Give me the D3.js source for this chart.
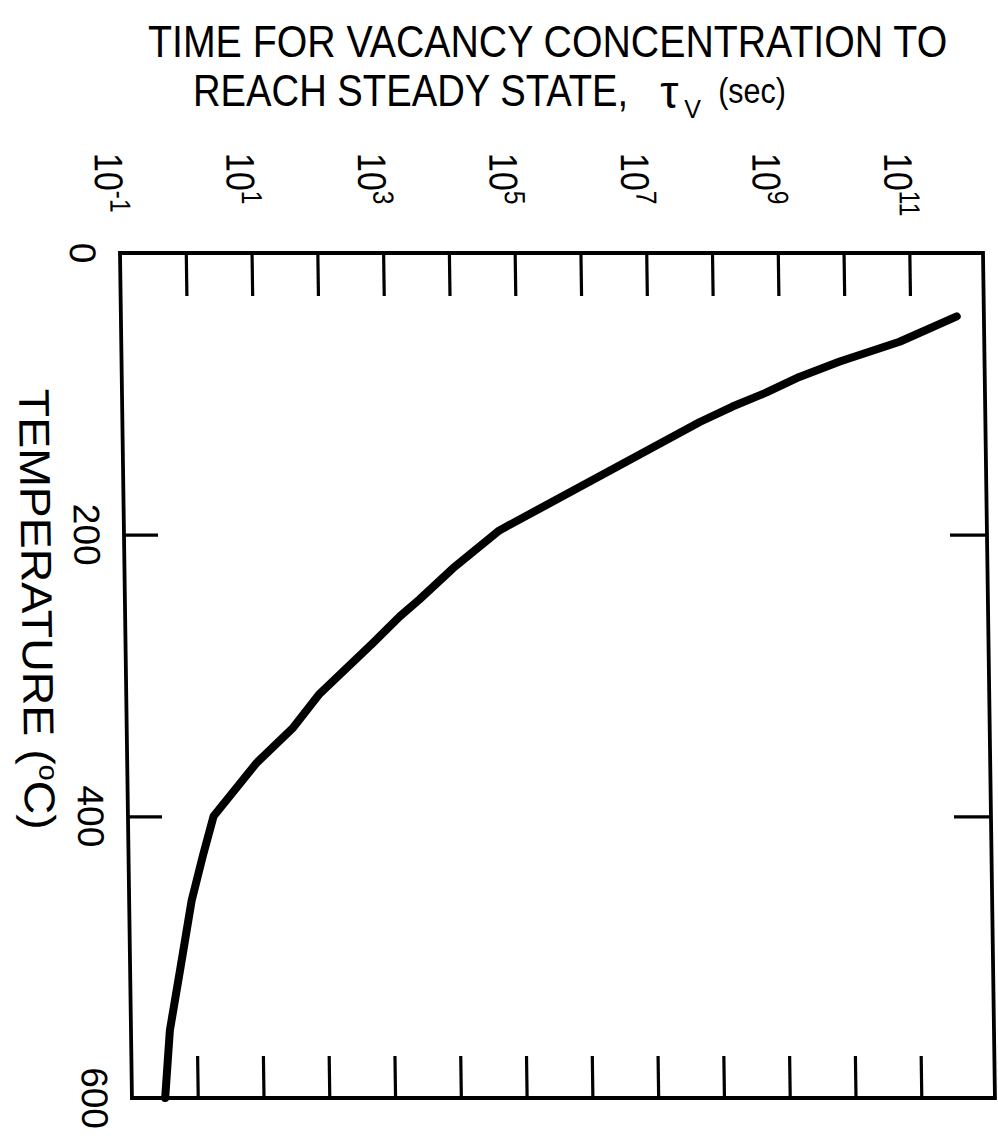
<!DOCTYPE html>
<html>
<head>
<meta charset="utf-8">
<script src="https://cdn.jsdelivr.net/npm/d3@7"></script>
<style>
  html, body { margin: 0; padding: 0; background: #fff; }
  svg { display: block; }
  text { font-family: "Liberation Sans", Arial, Helvetica, sans-serif; fill: #000; }
</style>
</head>
<body>
<svg id="chart" width="998" height="1144"></svg>
<script>
// Steady-state time for the vacancy concentration versus annealing temperature
const temperatureC = [45, 63, 77, 88, 99, 109, 120, 197, 224, 246, 258, 277, 313, 337, 362, 400, 428, 460, 508, 552, 600];
const tauSeconds   = [5.1e11, 6.8e10, 8.3e9, 2.0e9, 6.3e8, 1.9e8, 6.0e7, 5.1e4, 9.8e3, 3.0e3, 1.5e3, 575, 87, 34, 9.3, 2.0, 1.35, 0.89, 0.58, 0.39, 0.32];

// Axis ticks and labels
const timeTickExponents  = [0, 1, 2, 3, 4, 5, 6, 7, 8, 9, 10, 11];
const timeLabelExponents = [-1, 1, 3, 5, 7, 9, 11];
const tempTicks  = [200, 400];
const tempLabels = [0, 200, 400, 600];
const timeDomain = [1e-1, Math.pow(10, 12.12)];
const tempDomain = [0, 600];

const titleLine1 = "TIME FOR VACANCY CONCENTRATION TO";
const titleLine2 = "REACH STEADY STATE,";
const titleSymbol = "\u03C4";
const titleSubscript = "V";
const titleUnit = "(sec)";
const axisTitle = "TEMPERATURE (";

const svg = d3.select("#chart");
const plotW = 863, plotH = 845;
const plotLeft = 120, plotTop = 253;

const x = d3.scaleLog().domain(timeDomain).range([0, plotW]);
const y = d3.scaleLinear().domain(tempDomain).range([0, plotH]);

// Title (two lines, condensed sans)
const title = svg.append("g");
title.append("text")
  .attr("transform", "translate(148,57) scale(0.935,1.05)")
  .attr("font-size", 42)
  .text(titleLine1);
const line2 = title.append("text")
  .attr("transform", "translate(193,106) scale(0.91,1.05)")
  .attr("font-size", 42)
  .text(titleLine2);
const line2End = 193 + line2.node().getComputedTextLength() * 0.91;
title.append("text")
  .attr("x", line2End + 32).attr("y", 108)
  .attr("font-family", "'Liberation Serif', 'DejaVu Serif', serif")
  .attr("font-size", 46)
  .text(titleSymbol);
title.append("text")
  .attr("x", line2End + 56).attr("y", 118)
  .attr("font-size", 25)
  .text(titleSubscript);
title.append("text")
  .attr("transform", `translate(${line2End + 90},103) scale(0.87,1)`)
  .attr("font-size", 35)
  .text(titleUnit);

// Plot group, slightly sheared like the printed figure
const g = svg.append("g")
  .attr("transform", `translate(${plotLeft},${plotTop}) skewX(0.81)`);

// Inward ticks on all four sides
const tickStroke = sel => sel.selectAll("line").attr("stroke", "#000").attr("stroke-width", 3.2);

const topAxis = g.append("g")
  .call(d3.axisTop(x).tickValues(timeTickExponents.map(e => Math.pow(10, e)))
    .tickSizeInner(-43).tickSizeOuter(0).tickFormat(""));
topAxis.select(".domain").remove();
tickStroke(topAxis);

const bottomAxis = g.append("g")
  .attr("transform", `translate(0,${plotH})`)
  .call(d3.axisBottom(x).tickValues(timeTickExponents.map(e => Math.pow(10, e)))
    .tickSizeInner(-42).tickSizeOuter(0).tickFormat(""));
bottomAxis.select(".domain").remove();
tickStroke(bottomAxis);

const leftAxis = g.append("g")
  .call(d3.axisLeft(y).tickValues(tempTicks).tickSizeInner(-34).tickSizeOuter(0).tickFormat(""));
leftAxis.select(".domain").remove();
tickStroke(leftAxis);

const rightAxis = g.append("g")
  .attr("transform", `translate(${plotW},0)`)
  .call(d3.axisRight(y).tickValues(tempTicks).tickSizeInner(-37).tickSizeOuter(0).tickFormat(""));
rightAxis.select(".domain").remove();
tickStroke(rightAxis);

// Frame
g.append("rect")
  .attr("x", 0).attr("y", 0).attr("width", plotW).attr("height", plotH)
  .attr("fill", "none").attr("stroke", "#000").attr("stroke-width", 3.8);

// Time tick labels (rotated, powers of ten)
const tl = g.selectAll(".tlabel").data(timeLabelExponents).enter().append("g")
  .attr("transform", d => `translate(${x(Math.pow(10, d))},${153 - plotTop}) rotate(90)`);
const tlText = tl.append("text").attr("y", 24).attr("font-size", 40)
  .attr("transform", "scale(0.85,1)");
tlText.append("tspan").text("10");
tlText.append("tspan").attr("font-size", 29).attr("dy", -15).text(d => String(d));

// Temperature labels (rotated)
g.selectAll(".ylabel").data(tempLabels).enter().append("text")
  .attr("transform", d => `translate(-50,${y(d)}) rotate(90)`)
  .attr("text-anchor", "middle")
  .attr("font-size", 37)
  .text(d => d);

// Temperature axis title
const yt = g.append("text")
  .attr("transform", `translate(-103,${y(253)}) rotate(90) scale(1.08,1)`)
  .attr("text-anchor", "middle")
  .attr("font-size", 43);
yt.append("tspan").text(axisTitle);
yt.append("tspan").attr("font-size", 27).attr("dy", -15).text("o");
yt.append("tspan").attr("dy", 15).text("C)");

// Curve
const line = d3.line()
  .x((d, i) => x(tauSeconds[i]))
  .y(d => y(d));
g.append("path")
  .datum(temperatureC)
  .attr("d", line)
  .attr("fill", "none")
  .attr("stroke", "#000")
  .attr("stroke-width", 8)
  .attr("stroke-linejoin", "round")
  .attr("stroke-linecap", "round");
</script>
</body>
</html>
